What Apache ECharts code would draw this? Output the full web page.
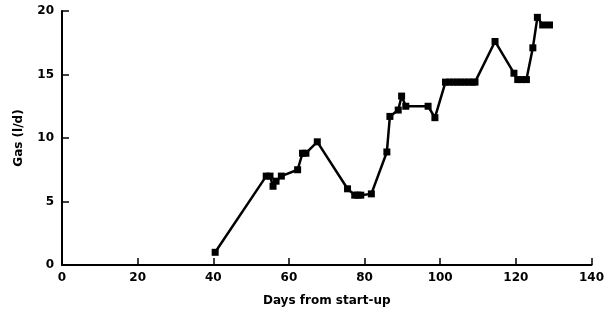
<!DOCTYPE html>
<html>
<head>
<meta charset="utf-8">
<script src="https://cdn.jsdelivr.net/npm/echarts@6/dist/echarts.min.js"></script>
<style>html,body{margin:0;padding:0;background:#fff;}#c{width:607px;height:322px;}</style>
</head>
<body>
<div id="c"></div>
<script>
const days = [40.5, 54, 55, 55.8, 56.6, 58, 62.3, 63.6, 64.5, 67.5, 75.5, 77.4, 78.2, 79, 81.8, 85.9, 86.7, 88.9, 89.8, 90.9, 96.8, 98.6, 101.4, 102.5, 103.5, 104.5, 105.5, 106.5, 107.5, 108.5, 109.2, 114.5, 119.5, 120.5, 121.5, 122.8, 124.5, 125.7, 127.1, 128.9];
const gas = [1.0, 7.0, 7.0, 6.2, 6.6, 7.0, 7.5, 8.8, 8.8, 9.7, 6.0, 5.5, 5.5, 5.5, 5.6, 8.9, 11.7, 12.2, 13.3, 12.5, 12.5, 11.6, 14.4, 14.4, 14.4, 14.4, 14.4, 14.4, 14.4, 14.4, 14.4, 17.6, 15.1, 14.6, 14.6, 14.6, 17.1, 19.5, 18.9, 18.9];
const xTicks = [0, 20, 40, 60, 80, 100, 120, 140];
const yTicks = [0, 5, 10, 15, 20];
const xTitle = 'Days from start-up';
const yTitle = 'Gas (l/d)';

const chart = echarts.init(document.getElementById('c'), null, {renderer: 'canvas'});
const font = 'DejaVu Sans';
chart.setOption({
  animation: false,
  grid: {left: 62, right: 11, top: 11, bottom: 57, containLabel: false},
  xAxis: {
    type: 'value', min: xTicks[0], max: xTicks[xTicks.length - 1], interval: 20,
    axisLine: {lineStyle: {color: '#000', width: 2}},
    axisTick: {inside: true, length: 7, lineStyle: {color: '#000', width: 1.5}},
    axisLabel: {color: '#000', fontFamily: font, fontWeight: 'bold', fontSize: 12, margin: 7},
    splitLine: {show: false},
    name: xTitle, nameLocation: 'middle', nameGap: 30,
    nameTextStyle: {color: '#000', fontFamily: font, fontWeight: 'bold', fontSize: 12}
  },
  yAxis: {
    type: 'value', min: yTicks[0], max: yTicks[yTicks.length - 1], interval: 5,
    axisLine: {show: true, lineStyle: {color: '#000', width: 2}},
    axisTick: {show: true, inside: true, length: 7, lineStyle: {color: '#000', width: 1.5}},
    axisLabel: {color: '#000', fontFamily: font, fontWeight: 'bold', fontSize: 12, margin: 8},
    splitLine: {show: false},
    name: yTitle, nameLocation: 'middle', nameGap: 37, nameRotate: 90,
    nameTextStyle: {color: '#000', fontFamily: font, fontWeight: 'bold', fontSize: 12}
  },
  series: [{
    type: 'line',
    data: days.map((d, i) => [d, gas[i]]),
    symbol: 'rect', symbolSize: 7,
    lineStyle: {color: '#000', width: 2.5},
    itemStyle: {color: '#000'}
  }]
});
</script>
</body>
</html>
